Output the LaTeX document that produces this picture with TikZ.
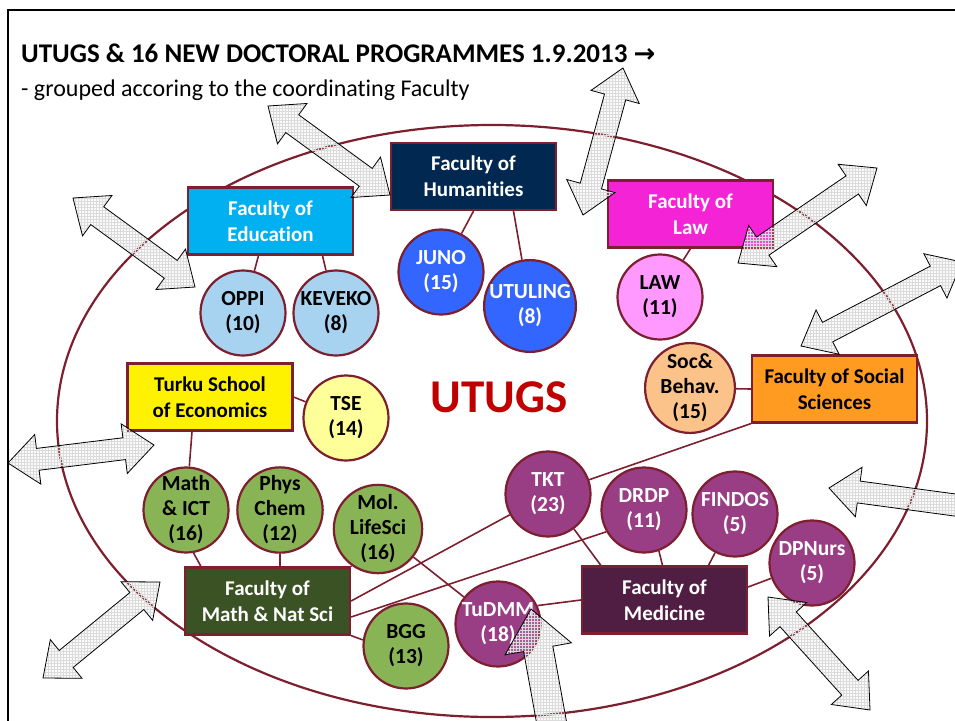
\documentclass[tikz,border=0pt]{standalone}
\usepackage{fontspec}
\setmainfont[Ligatures=NoCommon]{Carlito}
\newfontfamily\symfont{DejaVu Sans}
\usetikzlibrary{calc,patterns}

\definecolor{rim}{HTML}{7D1F2E}
\definecolor{utugsred}{HTML}{C00000}
\definecolor{humblue}{HTML}{002851}
\definecolor{educyan}{HTML}{00B0F0}
\definecolor{lawpink}{HTML}{F523D6}
\definecolor{socorange}{HTML}{FF9B21}
\definecolor{mnsgreen}{HTML}{3B5224}
\definecolor{medpurple}{HTML}{4F1E42}
\definecolor{lightblue}{HTML}{A8D3F0}
\definecolor{deepblue}{HTML}{3366FF}
\definecolor{lightpink}{HTML}{FF99FF}
\definecolor{peach}{HTML}{FBC38A}
\definecolor{paleyellow}{HTML}{FFFF99}
\definecolor{progreen}{HTML}{88B455}
\definecolor{propurple}{HTML}{993D85}

\tikzset{
  facbox/.style={rectangle, draw=rim, line width=2.2pt, minimum width=165pt,
    minimum height=67pt, inner sep=0pt, align=center,
    font=\bfseries\fontsize{21}{26}\selectfont},
  prog/.style={circle, draw=rim, line width=2.2pt, minimum size=85pt,
    inner sep=0pt, align=center, font=\bfseries\fontsize{21.5}{25}\selectfont},
  link/.style={draw=rim, line width=1.6pt},
  hatcharrow/.style={draw=black, line width=0.8pt, line join=miter,
    pattern=grid, pattern color=gray!28,
    preaction={fill=gray!20, fill opacity=0.2}},
}

% double block arrow between two named points, #1 = size factor
\newcommand{\twoway}[3][1]{%
  \coordinate (ha) at ($(#2)!30pt*#1!(#3)$);
  \coordinate (hb) at ($(#3)!30pt*#1!(#2)$);
  \draw[hatcharrow] (#2) -- ($(ha)!25pt*#1!90:(#3)$) -- ($(ha)!11pt*#1!90:(#3)$)
    -- ($(hb)!11pt*#1!-90:(#2)$) -- ($(hb)!25pt*#1!-90:(#2)$) -- (#3)
    -- ($(hb)!25pt*#1!90:(#2)$) -- ($(hb)!11pt*#1!90:(#2)$)
    -- ($(ha)!11pt*#1!-90:(#3)$) -- ($(ha)!25pt*#1!-90:(#3)$) -- cycle;}

\begin{document}
\begin{tikzpicture}[x=1pt,y=-1pt]
	\useasboundingbox (0,0) rectangle (955,720);
	\clip (0,0) rectangle (955,720);

	% frame and title
	\draw[line width=2.5pt] (8,730) -- (8,10) -- (965,10);
	\node[anchor=base west, inner sep=0pt, font=\bfseries\fontsize{27}{30}\selectfont] (title) at (21,62)
		{UTUGS \& 16 NEW DOCTORAL PROGRAMMES 1.9.2013 {\symfont\bfseries\fontsize{26}{30}\selectfont →}};
	\node[anchor=base west, inner sep=0pt, font=\fontsize{24}{28}\selectfont] (subtitle) at (21,96)
		{- grouped accoring to the coordinating Faculty};

	\draw[rim, line width=2.2pt] (492,421) ellipse [x radius=435, y radius=296];
	\node[text=utugsred, font=\bfseries\fontsize{47}{50}\selectfont] (utugs) at (499,397) {UTUGS};

	% faculties
	\node[facbox, fill=humblue, text=white] (hum) at (473.5,176.5) {Faculty of\\Humanities};
	\node[facbox, fill=educyan, text=white] (edu) at (270.5,221) {Faculty of\\Education};
	\node[facbox, fill=lawpink, text=white] (law) at (690.5,214) {Faculty of\\Law};
	\node[facbox, fill=yellow, text=black] (tse box) at (210,397) {Turku School\\of Economics};
	\node[facbox, fill=socorange, text=black] (soc) at (834.5,389) {Faculty of Social\\Sciences};
	\node[facbox, fill=mnsgreen, text=white] (mns) at (267.5,601) {Faculty of\\Math \& Nat Sci};
	\node[facbox, fill=medpurple, text=white] (med) at (664.5,600) {Faculty of\\Medicine};

	% doctoral programmes
	\node[prog, fill=lightblue] (oppi) at (243,313) {OPPI\\(10)};
	\node[prog, fill=lightblue] (keveko) at (336,313) {KEVEKO\\(8)};
	\node[prog, fill=deepblue, text=white] (juno) at (441,272) {JUNO\\(15)};
	\node[prog, fill=deepblue, text=white] (utuling) at (530,306) {UTULING\\(8)};
	\node[prog, fill=lightpink] (lawdp) at (660,297) {LAW\\(11)};
	\node[prog, fill=peach] (socbeh) at (690,388) {Soc\&\\Behav.\\(15)};
	\node[prog, fill=paleyellow] (tse) at (346,418) {TSE\\(14)};
	\node[prog, fill=progreen] (mathict) at (186,510) {Math\\\& ICT\\(16)};
	\node[prog, fill=progreen] (physchem) at (280,510) {Phys\\Chem\\(12)};
	\node[prog, fill=progreen] (mollife) at (378,529) {Mol.\\LifeSci\\(16)};
	\node[prog, fill=progreen] (bgg) at (406,646) {BGG\\(13)};
	\node[prog, fill=propurple, text=white] (tudmm) at (498,624) {TuDMM\\(18)};
	\node[prog, fill=propurple, text=white] (tkt) at (548,494) {TKT\\(23)};
	\node[prog, fill=propurple, text=white] (drdp) at (644,510) {DRDP\\(11)};
	\node[prog, fill=propurple, text=white] (findos) at (735,514) {FINDOS\\(5)};
	\node[prog, fill=propurple, text=white] (dpnurs) at (812,563) {DPNurs\\(5)};

	\path[link] ([xshift=-12pt]edu.south) edge (oppi);
	\path[link] ([xshift=52pt]edu.south) edge (keveko);
	\path[link] (hum.south) edge (juno);
	\path[link] ([xshift=40pt]hum.south) edge (utuling);
	\path[link] (law.south) edge (lawdp);
	\path[link] (soc.west) edge (socbeh);
	\path[link] (soc.south west) edge (tkt);
	\path[link] (tse box.east) edge (tse);
	\path[link] ([xshift=-18pt]tse box.south) edge (mathict);
	\path[link] (mathict.-80) edge ([xshift=17pt]mns.north west);
	\path[link] (physchem) edge (physchem |- mns.north);
	\path[link] (mollife) edge (mns.north east);
	\path[link] (mns.south east) edge (bgg.172);
	\path[link] (mns.east) edge (tkt);
	\path[link] ([yshift=-16pt]mns.east) edge (drdp.210);
	\path[link] (mollife) edge (tudmm);
	\path[link] (tudmm.25) edge (med.west);
	\path[link] (tkt) edge ([xshift=20pt]med.north west);
	\path[link] (drdp.-70) edge ([xshift=-2pt]med.north);
	\path[link] (findos) edge ([xshift=44pt]med.north);
	\path[link] (dpnurs) edge ([yshift=13pt]med.east);

	% links to the outside
	\coordinate (a1) at (268,106);  \coordinate (b1) at (390,195);
	\coordinate (a2) at (73,198);   \coordinate (b2) at (195,287);
	\coordinate (a3) at (623,68);   \coordinate (b3) at (583,215);
	\coordinate (a4) at (738,263);  \coordinate (b4) at (877,168);
	\coordinate (a5) at (801,346);  \coordinate (b5) at (962,262);
	\coordinate (a6) at (8,463);    \coordinate (b6) at (154,445);
	\coordinate (a7) at (43,678);   \coordinate (b7) at (160,582);
	\coordinate (a8) at (531,609);  \coordinate (b8) at (562,780);
	\coordinate (a9) at (829,488);  \coordinate (b9) at (992,510);
	\coordinate (a10) at (768,597); \coordinate (b10) at (870,710);
	\twoway{a1}{b1}
	\twoway{a2}{b2}
	\twoway{a3}{b3}
	\twoway{a4}{b4}
	\twoway{a5}{b5}
	\twoway{a6}{b6}
	\twoway{a7}{b7}
	\twoway[1.35]{a8}{b8}
	\twoway{a9}{b9}
	\twoway{a10}{b10}
\end{tikzpicture}
\end{document}
